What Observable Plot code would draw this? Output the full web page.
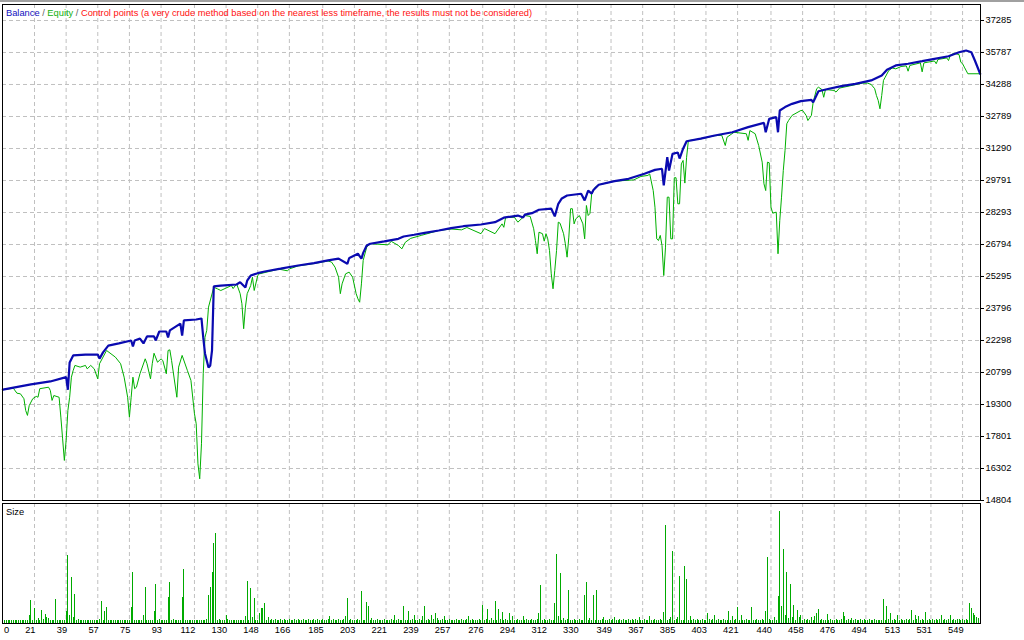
<!DOCTYPE html>
<html>
<head>
<meta charset="utf-8">
<script src="https://cdn.jsdelivr.net/npm/d3@7"></script>
<script src="https://cdn.jsdelivr.net/npm/@observablehq/plot@0.6"></script>
<style>
  html, body { margin: 0; padding: 0; background: #ffffff; }
  #wrap { position: relative; width: 1024px; height: 640px; overflow: hidden; font-family: "Liberation Sans", Arial, sans-serif; }
  #topline { position: absolute; left: 0; top: 0; width: 1024px; height: 2px; background: #a0a0a0; }
  #main { position: absolute; left: 0; top: 0; }
  #sub { position: absolute; left: 0; top: 502px; }
  #legend { position: absolute; left: 6px; top: 8px; font-size: 9.3px; line-height: 10px; white-space: nowrap; }
  #sizeLabel { position: absolute; left: 6px; top: 507px; font-size: 9.3px; line-height: 10px; color: #000; }
</style>
</head>
<body>
<div id="wrap">
  <div id="sub"></div>
  <div id="main"></div>
  <div id="topline"></div>
  <div id="legend"></div>
  <div id="sizeLabel"></div>
</div>
<script>
// ---------- data ----------
const legendItems = [
  { text: "Balance", color: "#1010c0" },
  { text: " / ", color: "#606060" },
  { text: "Equity", color: "#10b010" },
  { text: " / ", color: "#606060" },
  { text: "Control points (a very crude method based on the nearest less timeframe, the results must not be considered)", color: "#ff1010" }
];
const sizePanelTitle = "Size";

const xTickLabels = [0, 21, 39, 57, 75, 93, 112, 130, 148, 166, 185, 203, 221, 239, 257, 276, 294, 312, 330, 349, 367, 385, 403, 421, 440, 458, 476, 494, 513, 531, 549];
const yTickLabels = [37285, 35787, 34288, 32789, 31290, 29791, 28293, 26794, 25295, 23796, 22298, 20799, 19300, 17801, 16302, 14804];

// balance [trade #, value]
const balance = [[3,20000],[19,20240],[30,20380],[39,20580],[40,19990],[41,21270],[43,21600],[50,21640],[57,21640],[58,21450],[60,21740],[63,22060],[69,22160],[76,22300],[77,22020],[78,22300],[81,22390],[83,22160],[85,22490],[89,22490],[90,22300],[92,22720],[96,22720],[97,22440],[98,22770],[104,23090],[105,22530],[106,23240],[113,23280],[116,23330],[117,22440],[118,21690],[120,21030],[121,21130],[122,21830],[123,24830],[127,24870],[136,24920],[138,25030],[141,24780],[142,25100],[144,25340],[148,25450],[152,25530],[161,25660],[171,25810],[180,25920],[188,26050],[194,26130],[199,25890],[200,26150],[201,26200],[205,26360],[207,26130],[208,26400],[210,26750],[212,26830],[220,26940],[228,27060],[231,27170],[237,27250],[243,27340],[251,27450],[258,27560],[265,27650],[275,27730],[283,27840],[288,28050],[296,28150],[299,28060],[300,28190],[304,28260],[308,28420],[315,28470],[317,28110],[319,28700],[321,28950],[324,29090],[332,29170],[334,28860],[336,29320],[338,29180],[339,29350],[342,29590],[351,29760],[359,29870],[368,30110],[374,30290],[378,30340],[379,29560],[381,30880],[382,30260],[384,31040],[387,31100],[388,30820],[390,31280],[392,31630],[400,31750],[408,31900],[418,32050],[427,32290],[436,32490],[437,32050],[439,32680],[443,32760],[444,32050],[445,33070],[448,33230],[452,33380],[457,33510],[463,33570],[464,33450],[467,33970],[473,34090],[480,34210],[488,34320],[497,34480],[503,34710],[506,34980],[511,35180],[518,35260],[526,35380],[533,35490],[541,35610],[547,35800],[551,35880],[554,35800],[556,35410],[559,34790]];

// equity [trade #, value]
const equity = [[3,20000],[9,20060],[11,19830],[13,19800],[15,19570],[16,19020],[17,18790],[18,19250],[20,19570],[22,19680],[23,19640],[24,20040],[29,20110],[30,19960],[31,19490],[32,19720],[35,19640],[36,18710],[37,17690],[38,16680],[39,17620],[40,19020],[41,19640],[42,20580],[43,20890],[44,21130],[47,21050],[50,21130],[51,20970],[53,21130],[55,20970],[57,20500],[58,21210],[62,21830],[67,21520],[70,21210],[72,20580],[74,19640],[75,18710],[76,19640],[77,20580],[78,20040],[79,20110],[81,20740],[84,21440],[85,21210],[87,20500],[88,21210],[89,21700],[91,21280],[93,21440],[94,21360],[96,20740],[97,21830],[98,21860],[99,21360],[102,19640],[103,21050],[105,21600],[108,20890],[110,20430],[112,18870],[113,18400],[114,16520],[115,15820],[116,17460],[117,20740],[118,22450],[119,22770],[120,23860],[123,24790],[125,24720],[127,24640],[133,24870],[134,24730],[136,24950],[138,24490],[139,24020],[140,22850],[141,23860],[142,24490],[144,24870],[145,25260],[146,24640],[148,25340],[149,25420],[160,25640],[165,25560],[166,25650],[171,25790],[180,25900],[188,26020],[190,25970],[192,25730],[194,25260],[195,24490],[196,24950],[198,25420],[200,25500],[202,25260],[204,24490],[205,24250],[206,24090],[207,24950],[208,26050],[210,26670],[212,26830],[222,26780],[224,26940],[228,26750],[230,26590],[232,26900],[235,27080],[241,27220],[251,27450],[258,27520],[264,27480],[267,27590],[275,27300],[277,27540],[283,27300],[287,27760],[288,27600],[289,28050],[294,28070],[296,27840],[300,28150],[303,28110],[305,27530],[306,26980],[307,26360],[308,27370],[310,27300],[311,26950],[312,27300],[313,27060],[314,26510],[315,25420],[316,24720],[317,25580],[318,26510],[319,27840],[320,27790],[322,27300],[323,26830],[324,26200],[325,27140],[326,28470],[327,28470],[328,27760],[329,28000],[331,28150],[333,27760],[334,27060],[335,28620],[336,28150],[337,28250],[338,29170],[340,29480],[342,29590],[351,29760],[362,29820],[366,29980],[370,30030],[371,30100],[373,29320],[374,28540],[375,27060],[376,26980],[377,27220],[378,26750],[379,25340],[380,26670],[381,29010],[382,29010],[383,27060],[384,27060],[385,29920],[386,29920],[387,28700],[388,28700],[389,30570],[390,30730],[391,29670],[392,30880],[393,31660],[400,31740],[408,31890],[412,31910],[414,31430],[415,31820],[419,32050],[426,31980],[427,31670],[428,32130],[431,31980],[433,31430],[435,30650],[436,29640],[437,29320],[438,30650],[439,30620],[440,28540],[441,28260],[443,28310],[444,26360],[445,27920],[446,29010],[447,30260],[448,31200],[449,32450],[450,32600],[452,32840],[457,33070],[458,33070],[460,32840],[461,32600],[463,32840],[464,33460],[466,34090],[467,34160],[469,34050],[470,33690],[471,34050],[476,34010],[477,33930],[479,34120],[492,34350],[495,34350],[497,34290],[499,34090],[500,33770],[501,33540],[502,33150],[503,33770],[504,34480],[505,34630],[507,34940],[509,35060],[511,35020],[514,35130],[517,35160],[518,34910],[519,35180],[525,35300],[526,34880],[527,35300],[533,35390],[534,35260],[535,35460],[540,35530],[541,35410],[542,35650],[544,35750],[547,35690],[548,35330],[549,35260],[550,35100],[552,34790],[559,34790]];

// lot size per trade, starting at trade #3
const firstSizeTrade = 3;
const sizeLots = [
  .1,.1,.1,.1,.1,.1,.1,.1,.1,.1,.1,.1,.1,.1,.1,.28,.78,.1,.49,.1,
  .17,.1,.44,.13,.3,.19,.17,.1,.1,.1,.81,.1,.1,.1,.1,.1,.41,2.28,.28,1.54,
  .19,.98,.1,.13,.1,.1,.1,.1,.1,.1,.1,.1,.1,.1,.1,.14,.74,.1,.41,.54,
  .1,.1,.1,.1,.1,.1,.1,.1,.1,.1,.1,.1,.1,.52,1.71,.1,.1,.1,.1,.1,
  .28,1.21,.1,.1,.1,.1,.39,1.31,.1,.12,.1,.1,.1,.1,.88,1.38,.1,.13,.1,.1,
  .1,.1,.86,1.81,.1,.1,.1,.1,.1,.1,.1,.1,.1,.1,.1,.1,.13,.94,1.21,1.71,
  2.66,2.99,.1,.13,.1,.1,.1,.28,.13,.1,.1,.1,.1,.1,.1,.1,.1,.1,.22,1.41,
  .1,1.18,.21,.84,.1,.1,.34,.5,.49,.68,.1,.21,.1,.13,.1,.13,.1,.1,.13,.1,
  .13,.1,.1,.13,.1,.1,.13,.1,.13,.1,.1,.13,.1,.1,.15,.1,.1,.13,.1,.13,
  .1,.1,.13,.1,.1,.13,.24,.1,.15,.1,.1,.13,.1,.1,.13,.22,.85,.1,.13,.1,
  .1,.1,.13,.1,1.06,.1,.1,.69,.56,.1,.17,.1,.1,.13,.1,.1,.1,.13,.1,.1,
  .1,.13,.1,.26,.1,.13,.1,.1,.56,.1,.1,.39,.1,.13,.26,.1,.1,.13,.1,.22,
  .56,.1,.13,.1,.28,.13,.32,.17,.1,.1,.13,.22,.1,.1,.13,.1,.1,.1,.13,.1,
  .1,.13,.1,.1,.13,.22,.1,.13,.1,.1,.1,.13,.1,.61,.1,.13,.46,.1,.17,.1,
  .72,.1,.48,.13,.37,.1,.13,.1,.32,.1,.22,.1,.1,.13,.1,.1,.22,.1,.13,.1,
  .1,.13,.1,.1,.13,.32,1.26,.1,.13,.1,.1,.13,.1,.1,.66,2.29,.22,1.66,.1,.17,
  .1,.13,1.09,.1,.1,.13,.1,.1,.13,.1,.1,.94,1.36,.1,.17,.1,.92,.1,1.09,.1,
  .1,.13,.2,.1,.1,.13,.1,.13,.2,.1,.1,.13,.1,.13,.1,.1,.13,.1,.13,.1,
  .13,.1,.2,.1,.1,.13,.1,.1,.24,.1,.1,.13,.1,.1,.13,.1,.36,3.27,.1,.13,
  .2,2.39,.1,.13,.19,1.56,.1,.1,1.89,1.46,.1,.22,.1,.13,.1,.13,.1,.1,.13,.1,
  .1,.34,.13,.1,.13,.26,.1,.13,.1,.1,.13,.1,.1,.41,.1,.22,.1,.13,.52,.1,
  .28,.1,.1,.13,.1,.1,.52,.1,.1,.13,.1,.1,.13,.1,.41,2.21,.13,.1,.1,.19,
  .1,.91,3.74,.56,2.48,.26,1.71,.16,1.29,.2,.59,.1,.42,.2,.26,.1,.13,.1,.13,.1,
  .2,.1,.22,.32,.48,.1,.13,.1,.1,.3,.1,.13,.1,.1,.13,.1,.1,.13,.36,.22,
  .1,.13,.1,.17,.1,.13,.1,.1,.13,.1,.13,.1,.1,.13,.1,.1,.13,.1,.1,.1,
  .1,.79,.1,.56,.13,.32,.1,.13,.1,.26,.1,.13,.1,.1,.13,.1,.13,.42,.1,.28,
  .13,.22,.1,.13,.1,.36,.1,.13,.1,.13,.1,.13,.1,.13,.26,.1,.13,.1,.13,.28,
  .1,.13,.1,.13,.13,.1,.13,.1,.13,.1,.66,.49,.32,.26,.2,.16,.13
];

// scale domains
const xDomain = [2.8, 559.2];
const yDomain = [14804, 38034];
const sizeDomain = [0, 4];

// ---------- build ----------
const balanceRows = balance.map(([i, v]) => ({ i, v }));
const equityRows = equity.map(([i, v]) => ({ i, v }));
const sizeRows = sizeLots.map((s, k) => ({ i: firstSizeTrade + k, s }));

const FONT = "'Liberation Sans', Arial, sans-serif";
const GRID = { stroke: "#c0c0c0", strokeOpacity: 1, strokeWidth: 1, strokeDasharray: "4,3" };
const xGridTicks = xTickLabels.filter(t => t > 0);
const yGridTicks = yTickLabels.filter(t => t > yDomain[0]);

const main = Plot.plot({
  width: 1024, height: 502,
  marginLeft: 2, marginRight: 44, marginTop: 4, marginBottom: 2,
  style: { background: "transparent", fontFamily: FONT, fontSize: "9.3px", color: "#000", overflow: "visible" },
  x: { domain: xDomain, axis: null },
  y: { domain: yDomain, axis: null },
  marks: [
    Plot.gridX(xGridTicks, GRID),
    Plot.gridY(yGridTicks, GRID),
    Plot.line(equityRows, { x: "i", y: "v", stroke: "#00b000", strokeWidth: 1 }),
    Plot.line(balanceRows, { x: "i", y: "v", stroke: "#0a0ab0", strokeWidth: 2.2, strokeLinejoin: "miter" }),
    Plot.frame({ stroke: "#000", strokeWidth: 1 }),
    Plot.axisY(yTickLabels, { anchor: "right", label: null, tickSize: 3, tickPadding: 2, tickFormat: d => String(d), stroke: "#000", fill: "#000" })
  ]
});
document.getElementById("main").appendChild(main);

const sub = Plot.plot({
  width: 1024, height: 138,
  marginLeft: 2, marginRight: 44, marginTop: 1, marginBottom: 17,
  style: { background: "transparent", fontFamily: FONT, fontSize: "9.3px", color: "#000" },
  x: { domain: xDomain, axis: null },
  y: { domain: sizeDomain, axis: null },
  marks: [
    Plot.gridX(xGridTicks, GRID),
    Plot.ruleX(sizeRows, { x: "i", y1: 0, y2: "s", stroke: "#00aa00", strokeWidth: 1, shapeRendering: "crispEdges" }),
    Plot.frame({ stroke: "#000", strokeWidth: 1 }),
    Plot.text(xGridTicks, { x: d => d, text: d => String(d), frameAnchor: "bottom", lineAnchor: "middle", dy: 7, dx: 1, textAnchor: "end", fill: "#000" }),
    Plot.text(xTickLabels.filter(t => t === 0), { x: () => xDomain[0], text: d => String(d), frameAnchor: "bottom", lineAnchor: "middle", dy: 7, dx: 1.5, textAnchor: "start", fill: "#000" })
  ]
});
document.getElementById("sub").appendChild(sub);

const legend = document.getElementById("legend");
for (const item of legendItems) {
  const span = document.createElement("span");
  span.textContent = item.text;
  span.style.color = item.color;
  legend.appendChild(span);
}
document.getElementById("sizeLabel").textContent = sizePanelTitle;
</script>
</body>
</html>
